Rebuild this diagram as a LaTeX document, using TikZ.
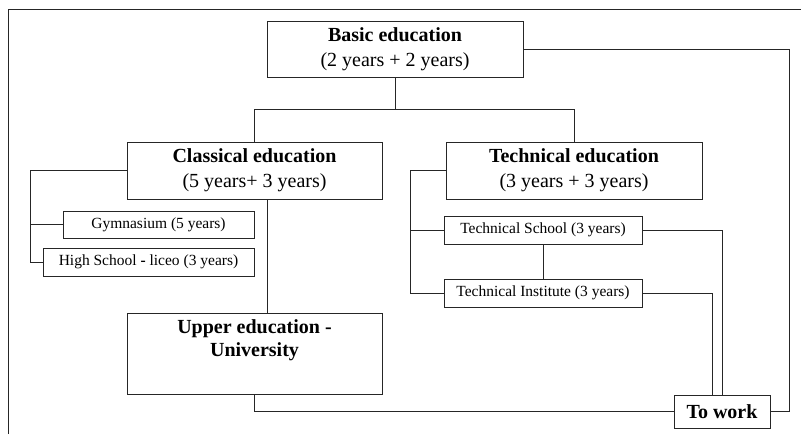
\documentclass[tikz,border=0pt]{standalone}
\usepackage{fontspec}
\setmainfont{Liberation Serif}
\tikzset{
  box/.style={draw=black!85, line width=0.8pt, align=center, inner sep=2pt},
  bigbox/.style={box, font=\fontsize{20}{25}\selectfont},
  smallbox/.style={box, font=\fontsize{15.5}{18}\selectfont},
  link/.style={draw=black!85, line width=0.8pt}
}
\begin{document}
\begin{tikzpicture}[x=1pt, y=-1pt]
                \useasboundingbox (0,0) rectangle (801,434);
                % frame
                \draw[link] (8,434) -- (8,9) -- (801,9);

                \node[bigbox, minimum width=256, minimum height=56] (basic) at (395,49) {\textbf{Basic education}\\(2 years + 2 years)};
                \node[bigbox, minimum width=255, minimum height=57] (classical) at (254.5,170.5) {\textbf{Classical education}\\(5 years+ 3 years)};
                \node[bigbox, minimum width=256, minimum height=57] (technical) at (574,170.5) {\textbf{Technical education}\\(3 years + 3 years)};
                \node[smallbox, minimum width=191, minimum height=27] (gym) at (158.5,224.5) {Gymnasium (5 years)};
                \node[smallbox, minimum width=211, minimum height=28] (high) at (148.5,262) {High School \textbf{-} liceo (3 years)};
                \node[smallbox, minimum width=198, minimum height=28] (tschool) at (543,230) {Technical School (3 years)};
                \node[smallbox, minimum width=198, minimum height=28] (tinst) at (543,293) {Technical Institute (3 years)};
                \node[bigbox, font=\fontsize{20}{23}\selectfont\bfseries, minimum width=255, minimum height=81] (upper) at (254.5,353.5) {Upper education -\\University\\\strut};
                \node[bigbox, font=\fontsize{20}{22}\selectfont\bfseries, minimum width=96, minimum height=33] (work) at (722,411.5) {To work};

                \coordinate (split) at (395,109);
                \coordinate (rail) at (789,411.5);
                \coordinate (clbus) at (30,170.5);
                \coordinate (tebus) at (410,170.5);

                % connectors
                \draw[link] (basic.south) -- (split);
                \draw[link] (split) -| (classical.north);
                \draw[link] (split) -| (technical.north);
                \draw[link] (basic.east) -| (rail) -- (work.east);
                \draw[link] (classical.west) -- (clbus) |- (high.west);
                \draw[link] (clbus) |- (gym.west);
                \draw[link] ([xshift=12.5]classical.south) -- ([xshift=12.5]upper.north);
                \draw[link] (upper.south) |- (work.west);
                \draw[link] (technical.west) -- (tebus) |- (tinst.west);
                \draw[link] (tebus) |- (tschool.west);
                \draw[link] (tschool.south) -- (tinst.north);
                \draw[link] (tschool.east) -| (work.north);
                \draw[link] (tinst.east) -| ([xshift=-10]work.north);
            \end{tikzpicture}
\end{document}
